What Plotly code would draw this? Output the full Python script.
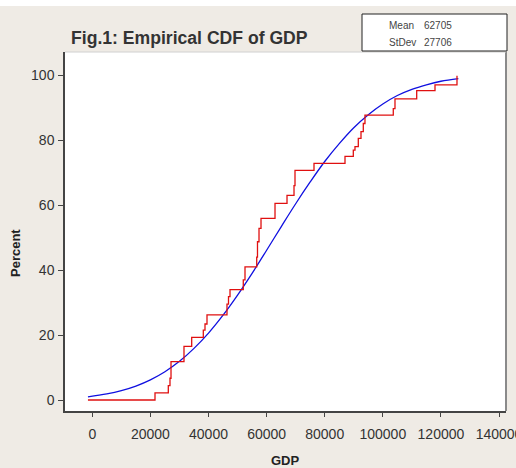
import plotly.graph_objects as go

# Empirical CDF (red step)
ecdf_x = [-1500, 21580, 26160, 26740, 27090, 31560, 34210, 38210, 38790, 39480,
          46360, 46880, 47400, 51970, 52560, 56590, 56860, 57380, 58070, 62890,
          67020, 69430, 69770, 76310, 86980, 89840, 90420, 91560, 92490, 93280,
          93860, 103600, 104190, 111660, 117960, 125530]
ecdf_pct = [0, 2.2, 4.4, 6.7, 11.8, 16.5, 19.3, 21.5, 23.4, 26.2,
            29.5, 31.8, 34.0, 37.0, 41.0, 44.0, 48.7, 52.8, 55.9, 60.5,
            63.0, 66.0, 70.7, 72.8, 75.0, 76.9, 78.0, 80.5, 82.6, 85.1,
            87.7, 89.7, 92.7, 95.2, 97.0, 99.8]

# Fitted normal CDF curve (blue)
fit_x = [-1500, 5000, 10000, 15000, 20000, 25000, 30000, 35000, 40000, 45000,
         50000, 55000, 60000, 65000, 70000, 75000, 80000, 85000, 90000, 95000,
         100000, 105000, 110000, 115000, 120000, 126000]
fit_pct = [1.0, 1.9, 2.9, 4.3, 6.2, 8.7, 11.9, 15.9, 20.6, 26.1,
           32.3, 39.0, 46.1, 53.3, 60.4, 67.1, 73.4, 78.9, 83.8, 87.8,
           91.1, 93.7, 95.6, 97.0, 98.1, 98.9]

x_ticks = [0, 20000, 40000, 60000, 80000, 100000, 120000, 140000]
y_ticks = [0, 20, 40, 60, 80, 100]

title_text = "Fig.1: Empirical CDF of GDP"
stats_labels = ["Mean", "StDev"]
stats_values = ["62705", "27706"]

BG = "#EFEBE5"
TXT = "#333333"
FONT = "Liberation Sans, Arial, sans-serif"

fig = go.Figure()
fig.add_trace(go.Scatter(x=fit_x, y=fit_pct, mode="lines", line=dict(color="#1010E0", width=1.3),
                         line_shape="spline", showlegend=False, hoverinfo="skip"))
fig.add_trace(go.Scatter(x=ecdf_x, y=ecdf_pct, mode="lines", line=dict(color="#E01010", width=1.3),
                         line_shape="hv", showlegend=False, hoverinfo="skip"))

fig.update_layout(
    width=516, height=468,
    margin=dict(l=65, r=10, t=52, b=57, pad=0, autoexpand=False),
    paper_bgcolor=BG, plot_bgcolor="white",
    font=dict(family=FONT, color=TXT, size=14),
    showlegend=False,
)
fig.update_xaxes(range=[-9400, 142400], tickvals=x_ticks, ticktext=[str(v) for v in x_ticks],
                 showgrid=False, zeroline=False, showline=True, linecolor="#444444", linewidth=1.5,
                 ticks="outside", ticklen=4, tickcolor="#444444", tickfont=dict(size=14, color=TXT),
                 ticklabelstandoff=5, ticklabeloverflow="allow", automargin=False)
fig.update_yaxes(range=[-3.38, 107.1], tickvals=y_ticks, ticktext=[str(v) for v in y_ticks],
                 showgrid=False, zeroline=False, showline=True, linecolor="#444444", linewidth=1.5,
                 ticks="outside", ticklen=5, tickcolor="#444444", tickfont=dict(size=14, color=TXT),
                 ticklabelstandoff=1, automargin=False)

shapes = [
    # top white strip (page text area)
    dict(type="rect", xref="paper", yref="paper", x0=-0.2, x1=1.1, y0=1.128, y1=1.2,
         fillcolor="white", line=dict(width=0), layer="above"),
    # right border shadow of plot area
    dict(type="line", xref="paper", yref="paper", x0=1.0, x1=1.0, y0=0, y1=1.0,
         line=dict(color="#8A8A8A", width=2)),
    dict(type="line", xref="paper", yref="paper", x0=0, x1=1.0, y0=1.0, y1=1.0,
         line=dict(color="#D0D0D0", width=1)),
    # stats box
    dict(type="rect", xref="paper", yref="paper", x0=(362 - 65) / 441, x1=(507 - 65) / 441,
         y0=(411 - 51) / 359, y1=(411 - 14) / 359, fillcolor="white",
         line=dict(color="#222222", width=1)),
]

annotations = [
    dict(text="<b>" + title_text + "</b>", xref="paper", yref="paper", x=(69 - 65) / 441,
         y=(411 - 38) / 359, xanchor="left", yanchor="middle", showarrow=False,
         font=dict(size=17.6, color=TXT, family=FONT)),
    dict(text="<b>Percent</b>", xref="paper", yref="paper", x=(15 - 65) / 441, y=(411 - 253) / 359,
         xanchor="center", yanchor="middle", textangle=-90, showarrow=False,
         font=dict(size=13, color="#222222", family=FONT)),
    dict(text="<b>GDP</b>", xref="paper", yref="paper", x=0.5, y=(411 - 460) / 359,
         xanchor="center", yanchor="middle", showarrow=False,
         font=dict(size=13, color="#222222", family=FONT)),
]
row_y = [25, 43]
for lab, val, ry in zip(stats_labels, stats_values, row_y):
    annotations.append(dict(text=lab, xref="paper", yref="paper", x=(387 - 65) / 441,
                            y=(411 - ry) / 359, xanchor="left", yanchor="middle", showarrow=False,
                            font=dict(size=10, color="#444444", family=FONT)))
    annotations.append(dict(text=val, xref="paper", yref="paper", x=(422 - 65) / 441,
                            y=(411 - ry) / 359, xanchor="left", yanchor="middle", showarrow=False,
                            font=dict(size=10, color="#444444", family=FONT)))

fig.update_layout(shapes=shapes, annotations=annotations)
fig.write_html("out.html", config={"displayModeBar": False},
               post_script="document.body.style.margin='0';document.body.style.padding='0';")
